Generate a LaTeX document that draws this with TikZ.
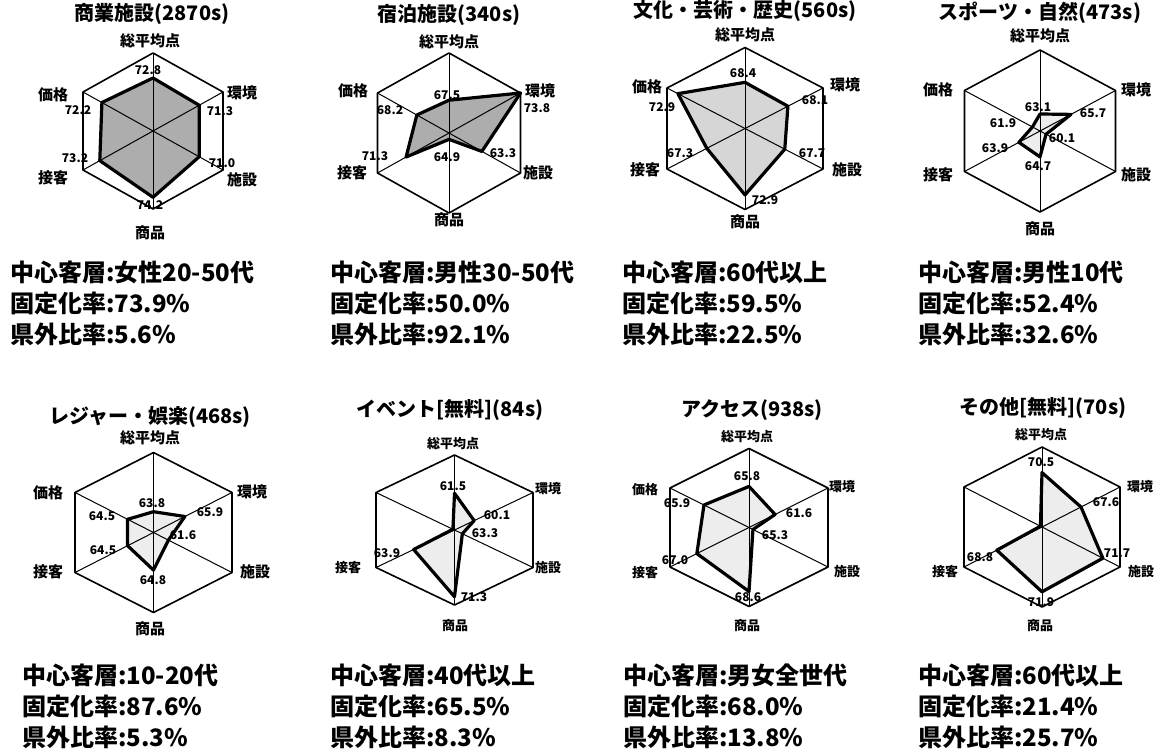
\documentclass[tikz,border=0pt]{standalone}
\usepackage{fontspec}
\setmainfont{Noto Sans CJK JP}
\usetikzlibrary{calc}

\tikzset{
  hexline/.style={line width=1.6pt, line join=round},
  spoke/.style={line width=1pt},
  dataline/.style={line width=3.2pt, line join=round},
  densefill/.style={fill=black!32},
  midfill/.style={fill=black!16},
  lightfill/.style={fill=black!7},
  charttitle/.style={font=\fontsize{20}{24}\selectfont\bfseries},
  axname/.style={font=\fontsize{15}{18}\selectfont\bfseries},
  axsmall/.style={font=\fontsize{13}{16}\selectfont\bfseries},
  valtext/.style={font=\fontsize{12}{14}\selectfont\bfseries, inner sep=0pt},
  infotext/.style={font=\fontsize{24}{31}\selectfont\bfseries, anchor=west, align=left, inner sep=0pt}
}

% hexagon frame with spokes (unit hexagon of the current scope)
\newcommand{\hexframe}{%
  \draw[hexline] (0,-1) -- (1,-.5) -- (1,.5) -- (0,1) -- (-1,.5) -- (-1,-.5) -- cycle;
  \foreach \p in {(0,-1),(1,-.5),(1,.5),(0,1),(-1,.5),(-1,-.5)}
    \draw[spoke] (0,0) -- \p;
}
% #1 fill, #2..#7 fractions: top, upper right, lower right, bottom, lower left, upper left
\newcommand{\radar}[7]{%
  \path[#1] (0,-#2) -- ({#3},{-#3/2}) -- ({#4},{#4/2}) -- (0,#5) -- ({-#6},{#6/2}) -- ({-#7},{-#7/2}) -- cycle;
  \hexframe
  \draw[dataline] (0,-#2) -- ({#3},{-#3/2}) -- ({#4},{#4/2}) -- (0,#5) -- ({-#6},{#6/2}) -- ({-#7},{-#7/2}) -- cycle;
}

\begin{document}
\begin{tikzpicture}[x=1pt, y=-1pt]
\useasboundingbox (0,0) rectangle (1158,755);

% Chart 1: shopping.
\begin{scope}[shift={(153,131)}, x=70pt, y=-78pt]
\radar{densefill}{.68}{.66}{.66}{.85}{.76}{.73}
\end{scope}
\node[charttitle] (t1) at (152,14) {商業施設(2870s)};
\node[axname] (a1top) at (150,41) {総平均点};
\node[axname] (a1ul) at (53,95) {価格};
\node[axname] (a1ur) at (242,93) {環境};
\node[axname] (a1ll) at (53,178) {接客};
\node[axname] (a1lr) at (242,180) {施設};
\node[axname] (a1bot) at (150,233) {商品};
\node[valtext] (v1a) at (148,70) {72.8};
\node[valtext] (v1b) at (220,111) {71.3};
\node[valtext] (v1c) at (222,163) {71.0};
\node[valtext] (v1d) at (150,205) {74.2};
\node[valtext] (v1e) at (75,158) {73.2};
\node[valtext] (v1f) at (78,110) {72.2};

% Chart 2: lodging.
\begin{scope}[shift={(449,133)}, x=71.5pt, y=-80pt]
\radar{densefill}{.41}{1}{.46}{.08}{.6}{.45}
\end{scope}
\node[charttitle] (t2) at (449,15) {宿泊施設(340s)};
\node[axname] (a2top) at (449,42) {総平均点};
\node[axname] (a2ul) at (353,91) {価格};
\node[axname] (a2ur) at (540,91) {環境};
\node[axname] (a2ll) at (352,173) {接客};
\node[axname] (a2lr) at (538,173) {施設};
\node[axname] (a2bot) at (449,220) {商品};
\node[valtext] (v2a) at (447,95) {67.5};
\node[valtext] (v2b) at (537,108) {73.8};
\node[valtext] (v2c) at (503,153) {63.3};
\node[valtext] (v2d) at (447,157) {64.9};
\node[valtext] (v2e) at (375,156) {71.3};
\node[valtext] (v2f) at (390,110) {68.2};

% Chart 3: culture.
\begin{scope}[shift={(745,128.5)}, x=78pt, y=-81pt]
\radar{midfill}{.57}{.55}{.51}{.82}{.49}{.86}
\end{scope}
\node[charttitle] (t3) at (745,11) {文化・芸術・歴史(560s)};
\node[axname] (a3top) at (745,35) {総平均点};
\node[axname] (a3ul) at (647,87) {価格};
\node[axname] (a3ur) at (845,85) {環境};
\node[axname] (a3ll) at (645,170) {接客};
\node[axname] (a3lr) at (847,170) {施設};
\node[axname] (a3bot) at (745,222) {商品};
\node[valtext] (v3a) at (743,73) {68.4};
\node[valtext] (v3b) at (815,100) {68.1};
\node[valtext] (v3c) at (812,153) {67.7};
\node[valtext] (v3d) at (765,200) {72.9};
\node[valtext] (v3e) at (680,153) {67.3};
\node[valtext] (v3f) at (662,107) {72.9};

% Chart 4: sports.
\begin{scope}[shift={(1040,131)}, x=75.5pt, y=-81pt]
\radar{lightfill}{.21}{.41}{.08}{.32}{.28}{.1}
\end{scope}
\node[charttitle] (t4) at (1040,13) {スポーツ・自然(473s)};
\node[axname] (a4top) at (1040,36) {総平均点};
\node[axname] (a4ul) at (938,90) {価格};
\node[axname] (a4ur) at (1136,90) {環境};
\node[axname] (a4ll) at (938,175) {接客};
\node[axname] (a4lr) at (1136,175) {施設};
\node[axname] (a4bot) at (1040,229) {商品};
\node[valtext] (v4a) at (1038,107) {63.1};
\node[valtext] (v4b) at (1093,113) {65.7};
\node[valtext] (v4c) at (1062,138) {60.1};
\node[valtext] (v4d) at (1038,166) {64.7};
\node[valtext] (v4e) at (995,148) {63.9};
\node[valtext] (v4f) at (1003,123) {61.9};

% Chart 5: leisure.
\begin{scope}[shift={(153.5,532.5)}, x=78.5pt, y=-80pt]
\radar{lightfill}{.26}{.40}{.19}{.47}{.33}{.33}
\end{scope}
\node[charttitle] (t5) at (150,417) {レジャー・娯楽(468s)};
\node[axname] (a5top) at (150,438) {総平均点};
\node[axname] (a5ul) at (48,493) {価格};
\node[axname] (a5ur) at (252,492) {環境};
\node[axname] (a5ll) at (48,572) {接客};
\node[axname] (a5lr) at (255,572) {施設};
\node[axname] (a5bot) at (150,629) {商品};
\node[valtext] (v5a) at (152,503) {63.8};
\node[valtext] (v5b) at (210,512) {65.9};
\node[valtext] (v5c) at (183,535) {61.6};
\node[valtext] (v5d) at (153,580) {64.8};
\node[valtext] (v5e) at (103,550) {64.5};
\node[valtext] (v5f) at (102,516) {64.5};

% Chart 6: event.
\begin{scope}[shift={(454.5,530)}, x=78.5pt, y=-75pt]
\radar{lightfill}{.49}{.25}{.1}{.89}{.52}{.02}
\end{scope}
\node[charttitle] (t6) at (450,410) {イベント[無料](84s)};
\node[axsmall] (a6top) at (453,444) {総平均点};
\node[axsmall] (a6ur) at (548,489) {環境};
\node[axsmall] (a6ll) at (348,568) {接客};
\node[axsmall] (a6lr) at (548,568) {施設};
\node[axsmall] (a6bot) at (455,626) {商品};
\node[valtext] (v6a) at (453,486) {61.5};
\node[valtext] (v6b) at (497,515) {60.1};
\node[valtext] (v6c) at (485,533) {63.3};
\node[valtext] (v6d) at (474,597) {71.3};
\node[valtext] (v6e) at (387,553) {63.9};

% Chart 7: access.
\begin{scope}[shift={(749,527.5)}, x=79pt, y=-79pt]
\radar{lightfill}{.52}{.33}{.05}{.81}{.66}{.57}
\end{scope}
\node[charttitle] (t7) at (752,410) {アクセス(938s)};
\node[axsmall] (a7top) at (747,437) {総平均点};
\node[axsmall] (a7ul) at (645,490) {価格};
\node[axsmall] (a7ur) at (842,487) {環境};
\node[axsmall] (a7ll) at (645,573) {接客};
\node[axsmall] (a7lr) at (847,572) {施設};
\node[axsmall] (a7bot) at (747,626) {商品};
\node[valtext] (v7a) at (747,476) {65.8};
\node[valtext] (v7b) at (799,513) {61.6};
\node[valtext] (v7c) at (775,535) {65.3};
\node[valtext] (v7d) at (748,597) {68.6};
\node[valtext] (v7e) at (675,560) {67.0};
\node[valtext] (v7f) at (677,503) {65.9};

% Chart 8: others.
\begin{scope}[shift={(1042,527)}, x=78pt, y=-80pt]
\radar{lightfill}{.68}{.5}{.78}{.81}{.58}{.02}
\end{scope}
\node[charttitle] (t8) at (1043,408) {その他[無料](70s)};
\node[axsmall] (a8top) at (1041,435) {総平均点};
\node[axsmall] (a8ur) at (1140,487) {環境};
\node[axsmall] (a8ll) at (945,572) {接客};
\node[axsmall] (a8lr) at (1141,572) {施設};
\node[axsmall] (a8bot) at (1040,626) {商品};
\node[valtext] (v8a) at (1041,462) {70.5};
\node[valtext] (v8b) at (1106,502) {67.6};
\node[valtext] (v8c) at (1117,553) {71.7};
\node[valtext] (v8d) at (1041,602) {71.9};
\node[valtext] (v8e) at (980,557) {68.8};

% Customer figures.
\node[infotext] (i1) at (10,303) {中心客層:女性20-50代\\固定化率:73.9\%\\県外比率:5.6\%};
\node[infotext] (i2) at (330,303) {中心客層:男性30-50代\\固定化率:50.0\%\\県外比率:92.1\%};
\node[infotext] (i3) at (622,303) {中心客層:60代以上\\固定化率:59.5\%\\県外比率:22.5\%};
\node[infotext] (i4) at (918,303) {中心客層:男性10代\\固定化率:52.4\%\\県外比率:32.6\%};
\node[infotext] (i5) at (22,706) {中心客層:10-20代\\固定化率:87.6\%\\県外比率:5.3\%};
\node[infotext] (i6) at (330,706) {中心客層:40代以上\\固定化率:65.5\%\\県外比率:8.3\%};
\node[infotext] (i7) at (623,706) {中心客層:男女全世代\\固定化率:68.0\%\\県外比率:13.8\%};
\node[infotext] (i8) at (918,706) {中心客層:60代以上\\固定化率:21.4\%\\県外比率:25.7\%};
\end{tikzpicture}
\end{document}
